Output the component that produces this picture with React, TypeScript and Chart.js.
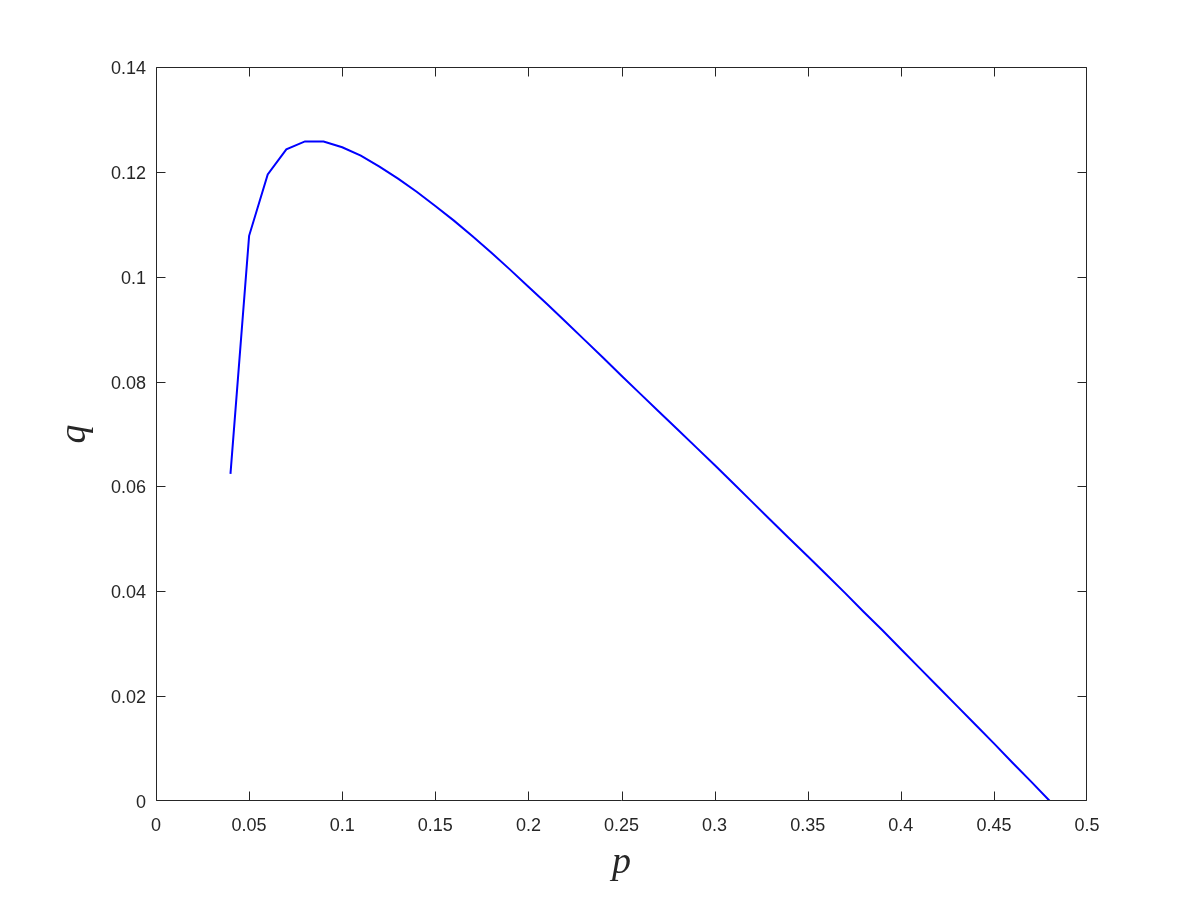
import React, { useEffect, useRef } from "react";
import { Chart, registerables } from "chart.js";

Chart.register(...registerables);

// Data
const pValues: number[] = [
  0.04, 0.05, 0.06, 0.07, 0.08, 0.09, 0.1, 0.11, 0.12, 0.13, 0.14, 0.15, 0.16,
  0.17, 0.18, 0.19, 0.2, 0.21, 0.22, 0.23, 0.24, 0.25, 0.26, 0.27, 0.28, 0.29,
  0.3, 0.31, 0.32, 0.33, 0.34, 0.35, 0.36, 0.37, 0.38, 0.39, 0.4, 0.41, 0.42,
  0.43, 0.44, 0.45, 0.46, 0.47, 0.48,
];
const qValues: number[] = [
  0.0624, 0.1078, 0.1195, 0.1243, 0.1258, 0.1258, 0.1247, 0.1231, 0.121,
  0.1187, 0.1162, 0.1135, 0.1107, 0.1077, 0.1046, 0.1014, 0.0981, 0.0948,
  0.0914, 0.088, 0.0846, 0.0811, 0.0777, 0.0743, 0.0709, 0.0675, 0.0641,
  0.0606, 0.0571, 0.0536, 0.0501, 0.0467, 0.0432, 0.0397, 0.0361, 0.0326,
  0.029, 0.0254, 0.0218, 0.0182, 0.0146, 0.011, 0.0073, 0.0037, 0.0,
];
const xAxisRange = { min: 0, max: 0.5, step: 0.05 };
const yAxisRange = { min: 0, max: 0.14, step: 0.02 };
const xLabel = "p";
const yLabel = "q";

const AXIS_COLOR = "#262626";
const TICK_LEN = 9;

const fmt = (v: number) => String(Number(Number(v).toFixed(4)));

const boxPlugin = {
  id: "matlabBox",
  afterDatasetsDraw(chart: any) {
    const { ctx, chartArea, scales } = chart;
    const l = Math.round(chartArea.left) + 0.5;
    const r = Math.round(chartArea.right) - 0.5;
    const t = Math.round(chartArea.top) + 0.5;
    const b = Math.round(chartArea.bottom) - 0.5;
    const clamp = (v: number, lo: number, hi: number) => Math.min(hi, Math.max(lo, v));
    ctx.save();
    ctx.strokeStyle = AXIS_COLOR;
    ctx.lineWidth = 1;
    ctx.beginPath();
    ctx.rect(l, t, r - l, b - t);
    scales.x.ticks.forEach((tk: any) => {
      const px = clamp(Math.round(scales.x.getPixelForValue(tk.value)) + 0.5, l, r);
      ctx.moveTo(px, b);
      ctx.lineTo(px, b - TICK_LEN);
      ctx.moveTo(px, t);
      ctx.lineTo(px, t + TICK_LEN);
    });
    scales.y.ticks.forEach((tk: any) => {
      const py = clamp(Math.round(scales.y.getPixelForValue(tk.value)) + 0.5, t, b);
      ctx.moveTo(l, py);
      ctx.lineTo(l + TICK_LEN, py);
      ctx.moveTo(r, py);
      ctx.lineTo(r - TICK_LEN, py);
    });
    ctx.stroke();
    ctx.restore();
  },
};

export default function App() {
  const canvasRef = useRef<HTMLCanvasElement | null>(null);

  useEffect(() => {
    document.body.style.margin = "0";
    const canvas = canvasRef.current;
    if (!canvas) return;
    const chart = new Chart(canvas, {
      type: "line",
      data: {
        datasets: [
          {
            data: pValues.map((p, i) => ({ x: p, y: qValues[i] })),
            borderColor: "#0000FF",
            borderWidth: 2,
            pointRadius: 0,
            tension: 0,
            fill: false,
          },
        ],
      },
      options: {
        animation: false,
        responsive: false,
        devicePixelRatio: 1,
        layout: { padding: { top: 67, right: 113, left: 0, bottom: 0 } },
        plugins: {
          legend: { display: false },
          tooltip: { enabled: false },
        },
        scales: {
          x: {
            type: "linear",
            min: xAxisRange.min,
            max: xAxisRange.max,
            grid: { display: false, drawTicks: false },
            border: { display: false },
            ticks: {
              stepSize: xAxisRange.step,
              padding: 14,
              color: AXIS_COLOR,
              font: { family: "'Liberation Sans', Arial, sans-serif", size: 18 },
              callback: (v: any) => fmt(v),
              maxRotation: 0,
              autoSkip: false,
            },
            title: {
              display: true,
              text: xLabel,
              color: AXIS_COLOR,
              font: { family: "'Liberation Serif', 'Times New Roman', serif", size: 38, style: "italic" },
              padding: { top: 0, bottom: 14 },
            },
            afterFit: (scale: any) => {
              scale.height = 99;
            },
          },
          y: {
            type: "linear",
            min: yAxisRange.min,
            max: yAxisRange.max,
            grid: { display: false, drawTicks: false },
            border: { display: false },
            ticks: {
              stepSize: yAxisRange.step,
              padding: 10,
              labelOffset: 2,
              color: AXIS_COLOR,
              font: { family: "'Liberation Sans', Arial, sans-serif", size: 18 },
              callback: (v: any) => fmt(v),
              autoSkip: false,
            },
            title: {
              display: true,
              text: yLabel,
              color: AXIS_COLOR,
              font: { family: "'Liberation Serif', 'Times New Roman', serif", size: 38, style: "italic" },
              padding: { top: 52, bottom: 0 },
            },
            afterFit: (scale: any) => {
              scale.width = 156;
            },
          },
        },
      },
      plugins: [boxPlugin],
    });
    return () => chart.destroy();
  }, []);

  return (
    <div style={{ width: 1200, height: 900, background: "#fff" }}>
      <canvas ref={canvasRef} width={1200} height={900} style={{ width: 1200, height: 900, display: "block" }} />
    </div>
  );
}
